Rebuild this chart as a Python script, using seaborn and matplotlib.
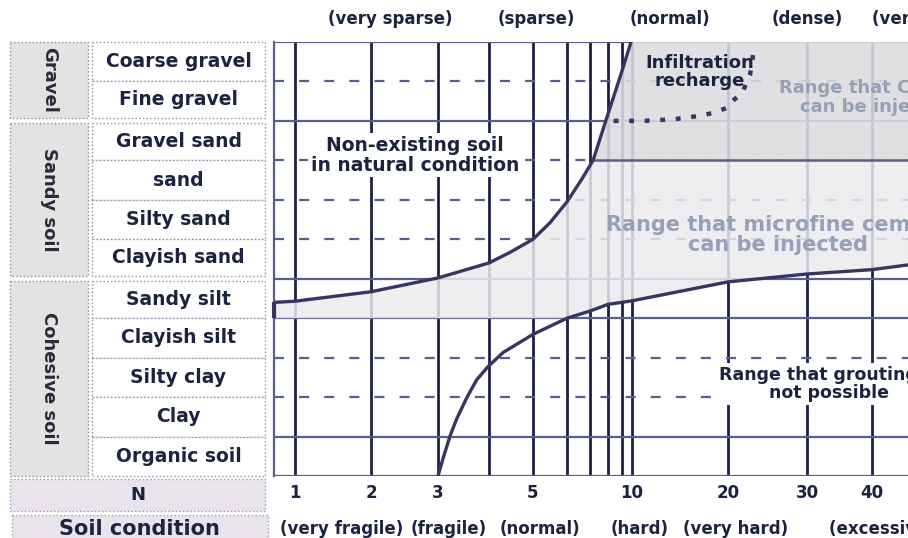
import numpy as np
import matplotlib
matplotlib.use("Agg")
import matplotlib.pyplot as plt
import seaborn as sns
from matplotlib.patches import Rectangle
from matplotlib.transforms import blended_transform_factory

# --- values ---
groups = ["Gravel", "Sandy soil", "Cohesive soil"]
group_rows = [(0, 2), (2, 6), (6, 11)]
soil_types = ["Coarse gravel", "Fine gravel", "Gravel sand", "sand", "Silty sand",
              "Clayish sand", "Sandy silt", "Clayish silt", "Silty clay", "Clay",
              "Organic soil"]

n_ticks = [1, 2, 3, 5, 10, 20, 30, 40]
n_grid = [1, 2, 3, 4, 5, 6, 7, 8, 9, 10, 20, 30, 40, 50]
solid_rows = [0, 2, 6, 7, 10, 11]
dashed_rows = [1, 3, 4, 5, 8, 9]

# printed N axis is not linear: N value -> distance from the N=1 line (px)
scale_n = [0, 1, 2, 3, 4, 5, 6, 7, 8, 9, 10, 20, 30, 40, 50, 60]
scale_pos = [-76, 0, 76, 143, 194, 238, 272, 295, 313, 327, 337, 433, 512, 577, 632, 680]

density_labels = ["(very sparse)", "(sparse)", "(normal)", "(dense)", "(very dense)"]
density_n = [2.28, 5.1, 14.0, 30.0, 50.8]
condition_labels = ["(very fragile)", "(fragile)", "(normal)", "(hard)", "(very hard)"]
condition_n = [1.62, 3.2, 5.2, 10.8, 20.9]
excess_label = "(excessively hard)"
excess_n = 33.4

# boundary curves (N, row counted from top)
upper_n = [0.724, 1, 2, 3, 4, 4.48, 5, 5.5, 6, 6.65, 7.17, 7.6, 8.14, 8.86, 9.9]
upper_row = [6.6, 6.57, 6.33, 5.98, 5.6, 5.33, 5.0, 4.58, 4.05, 3.47, 3.0, 2.39, 1.67, 0.89, 0.0]
lower_n = [3, 3.1, 3.24, 3.37, 3.57, 3.76, 3.98, 4.32, 5, 6, 7, 8, 10, 20, 30, 40, 46.5]
lower_row = [11, 10.55, 9.97, 9.54, 9.0, 8.56, 8.23, 7.87, 7.41, 7.0, 6.82, 6.65, 6.56,
             6.08, 5.88, 5.77, 5.65]
recharge_n = [8.4, 11.1, 14.3, 17.1, 18.4, 19.9, 20.6, 21.8, 22.8, 23.2, 23.4]
recharge_row = [2.0, 2.0, 1.96, 1.87, 1.8, 1.67, 1.49, 1.29, 0.82, 0.29, 0.08]

sns.set_style("white")
plt.rcParams['font.family'] = ['DejaVu Sans']

INK = '#1c2340'
VLINE = '#1e2145'
HLINE = '#56608a'
CURVE = '#3a3462'
FADED = '#96a0b6'


def fwd(n):
    return np.interp(n, scale_n, scale_pos)


def inv(p):
    return np.interp(p, scale_pos, scale_n)


def row_px(r):
    return 42 + 434 / 11 * r


X_LEFT = float(inv(-21))
X_RIGHT = float(inv(613))

fig = plt.figure(figsize=(9.08, 5.38), dpi=100, facecolor='white')

# --- left hand table (pixel coordinates) ---
bg = fig.add_axes([0, 0, 1, 1])
bg.set_xlim(0, 908)
bg.set_ylim(538, 0)
bg.axis('off')

for name, (r0, r1) in zip(groups, group_rows):
    top = row_px(r0) + (0 if r0 == 0 else 2.5)
    bot = row_px(r1) - (0 if r1 == 11 else 2.5)
    bg.add_patch(Rectangle((10, top), 78, bot - top, fc='#e3e3e3', ec='#8c8c9c', lw=1, ls=':'))
    bg.text(49, (top + bot) / 2, name, rotation=-90, ha='center', va='center',
            fontsize=13, fontweight='bold', color='#2a2a3a')
    for r in range(r0, r1):
        t = max(row_px(r), top)
        b = min(row_px(r + 1), bot)
        bg.add_patch(Rectangle((92, t), 173, b - t, fc='white', ec='#9090a4', lw=1, ls=':'))
        bg.text(178.5, (t + b) / 2, soil_types[r], ha='center', va='center',
                fontsize=13.5, fontweight='bold', color=INK)

bg.add_patch(Rectangle((10, 479), 255, 32, fc='#e9e4ec', ec='#9a9aaa', lw=1, ls=':'))
bg.text(137.5, 495, "N", ha='center', va='center', fontsize=13, fontweight='bold', color=INK)
bg.add_patch(Rectangle((12, 515), 256, 30, fc='#e9e4ec', ec='#9a9aaa', lw=1, ls=':'))
bg.text(139, 529, "Soil condition", ha='center', va='center', fontsize=15,
        fontweight='bold', color=INK)

# --- main chart ---
ax = fig.add_axes([274 / 908, 62 / 538, 634 / 908, 434 / 538])
ax.set_facecolor('white')
ax.set_xscale('function', functions=(fwd, inv))

ax.vlines(n_grid, 0, 11, color=VLINE, lw=2, zorder=1)
ax.hlines(solid_rows, X_LEFT, X_RIGHT, color=HLINE, lw=1.6, zorder=1)
ax.hlines(dashed_rows, X_LEFT, X_RIGHT, color=HLINE, lw=1.6, zorder=1,
          linestyles=[(0, (4.5, 6.8))])

# shaded zones
k = upper_row.index(3.0)
cem_x = upper_n[k:] + [X_RIGHT, X_RIGHT]
cem_y = upper_row[k:] + [0, 3]
ax.fill(cem_x, cem_y, color='#dcdce0', alpha=0.88, lw=0, zorder=2)

j = lower_row.index(7.0)
mf_x = upper_n[:k + 1] + [X_RIGHT] + lower_n[j:][::-1] + [X_LEFT]
mf_y = upper_row[:k + 1] + [3] + lower_row[j:][::-1] + [7]
ax.fill(mf_x, mf_y, color='#ebebef', alpha=0.84, lw=0, zorder=2)

ax.hlines(3, upper_n[k], X_RIGHT, color=HLINE, lw=1.8, zorder=3)
ax.vlines(X_LEFT, upper_row[0], 7, color=CURVE, lw=3, zorder=4, clip_on=False)

# boundary curves
sns.lineplot(x=upper_n, y=upper_row, sort=False, estimator=None, ax=ax,
             color=CURVE, lw=2.4, zorder=4)
sns.lineplot(x=lower_n, y=lower_row, sort=False, estimator=None, ax=ax,
             color=CURVE, lw=2.4, zorder=4)
sns.lineplot(x=recharge_n, y=recharge_row, sort=False, estimator=None, ax=ax,
             color=CURVE, lw=3.2, zorder=6, linestyle=(0, (1.1, 2.4)))

# zone texts
white_box = dict(facecolor='white', edgecolor='none', pad=2)
ax.text(2.66, 2.87, "Non-existing soil\nin natural condition", ha='center', va='center',
        fontsize=13.5, fontweight='bold', color=INK, linespacing=1.05, bbox=white_box, zorder=3)
ax.text(17.1, 0.76, "Infiltration\nrecharge", ha='center', va='center', fontsize=13,
        fontweight='bold', color=INK, linespacing=0.95, zorder=5)
ax.text(26.5, 1.4, "Range that Cement\ncan be injected", ha='left', va='center',
        multialignment='center', fontsize=13, fontweight='bold', color=FADED,
        linespacing=1.05, zorder=3)
ax.text(26.3, 4.9, "Range that microfine cement\ncan be injected", ha='center', va='center',
        fontsize=15, fontweight='bold', color=FADED, linespacing=1.0, zorder=3)
ax.text(33.4, 8.67, "Range that grouting is\nnot possible", ha='center', va='center',
        fontsize=12.5, fontweight='bold', color=INK, linespacing=1.0, bbox=white_box, zorder=3)

ax.set_xlim(X_LEFT, X_RIGHT)
ax.set_ylim(11, 0)
ax.set_xlabel('')
ax.set_ylabel('')
ax.set_yticks([])
ax.set_xticks(n_ticks)
ax.set_xticklabels([str(n) for n in n_ticks], fontweight='bold')
ax.xaxis.set_minor_locator(matplotlib.ticker.NullLocator())
ax.tick_params(axis='x', length=0, pad=6, labelsize=12, labelcolor=INK)
for side in ['top', 'right', 'bottom']:
    ax.spines[side].set_visible(False)
ax.spines['left'].set_color(HLINE)
ax.spines['left'].set_linewidth(1.6)

# density / condition captions above and below
trans = blended_transform_factory(ax.transData, fig.transFigure)
for lab, n in zip(density_labels, density_n):
    ax.text(n, 1 - 19 / 538, lab, transform=trans, ha='center', va='center',
            fontsize=12, fontweight='bold', color=INK, clip_on=False)
for lab, n in zip(condition_labels, condition_n):
    ax.text(n, 1 - 529 / 538, lab, transform=trans, ha='center', va='center',
            fontsize=12, fontweight='bold', color=INK, clip_on=False)
ax.text(excess_n, 1 - 529 / 538, excess_label, transform=trans, ha='left', va='center',
        fontsize=12, fontweight='bold', color=INK, clip_on=False)

fig.savefig('out.png', dpi=100, facecolor='white')
